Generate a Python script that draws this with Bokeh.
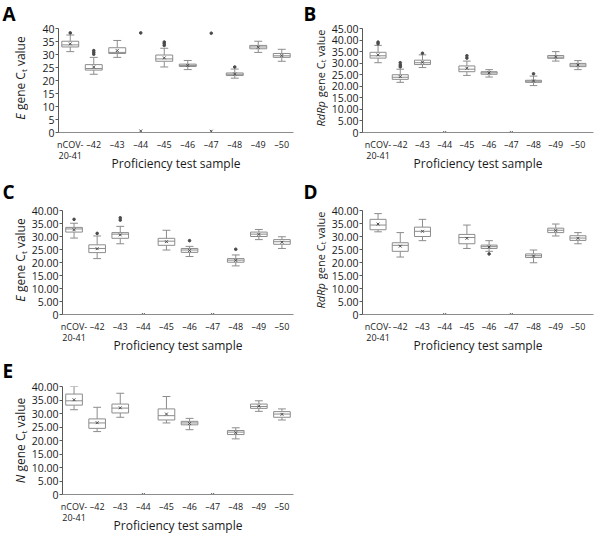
import math
from bokeh.plotting import figure
from bokeh.models import ColumnDataSource, FactorRange, Range1d, FixedTicker, PrintfTickFormatter, Label, Title
from bokeh.layouts import row, column
from bokeh.transform import dodge
from bokeh.embed import file_html
from bokeh.resources import INLINE

samples = ["nCOV-\n20-41", "–42", "–43", "–44", "–45", "–46", "–47", "–48", "–49", "–50"]

# Panel A: E gene (first assay)
A_lo = [31.1, 22.4, 28.9, 0, 25.2, 24.2, 0, 20.9, 30.8, 27.4]
A_q1 = [32.9, 24.0, 30.4, 0, 27.4, 25.4, 0, 21.9, 32.2, 28.9]
A_med = [33.7, 24.6, 30.8, 0, 28.3, 25.8, 0, 22.4, 32.9, 29.5]
A_q3 = [35.1, 26.1, 32.6, 0, 29.8, 26.3, 0, 22.9, 33.5, 30.4]
A_hi = [37.5, 28.9, 35.4, 0, 32.4, 27.7, 0, 24.4, 35.1, 32.0]
A_mean = [34.1, 25.2, 31.5, 0.6, 28.7, 25.8, 0.5, 22.5, 32.8, 29.6]
A_out_cat = ["nCOV-\n20-41", "–42", "–42", "–42", "–44", "–45", "–45", "–45", "–47", "–48"]
A_out_val = [38.3, 30.1, 30.8, 31.5, 38.3, 33.5, 34.2, 34.8, 38.2, 25.2]

# Panel B: RdRp gene (first assay)
B_lo = [30.2, 21.7, 28.1, 0, 24.7, 24.0, 0, 20.3, 30.9, 27.2]
B_q1 = [32.2, 23.0, 29.4, 0, 26.3, 25.2, 0, 21.7, 32.1, 28.5]
B_med = [33.2, 23.9, 30.2, 0, 27.4, 25.8, 0, 22.2, 32.6, 29.2]
B_q3 = [34.7, 25.0, 31.3, 0, 28.8, 26.3, 0, 22.6, 33.3, 29.9]
B_hi = [37.7, 27.4, 33.6, 0, 30.9, 27.2, 0, 24.4, 35.0, 31.1]
B_mean = [33.6, 24.2, 30.4, 0, 27.8, 25.8, 0, 22.3, 32.7, 29.2]
B_out_cat = ["nCOV-\n20-41", "nCOV-\n20-41", "–42", "–42", "–42", "–43", "–45", "–45", "–48"]
B_out_val = [38.4, 39.1, 28.4, 29.2, 30.2, 34.3, 32.2, 33.2, 25.4]

# Panel C: E gene (second assay)
C_lo = [29.4, 21.5, 27.2, 0, 24.8, 22.3, 0, 18.7, 28.8, 25.4]
C_q1 = [31.7, 23.8, 29.3, 0, 26.6, 23.9, 0, 20.1, 30.0, 27.0]
C_med = [32.9, 25.4, 30.9, 0, 28.2, 24.8, 0, 20.9, 30.9, 28.0]
C_q3 = [33.5, 26.8, 31.5, 0, 29.3, 25.4, 0, 21.5, 31.7, 28.8]
C_hi = [35.1, 30.2, 33.9, 0, 32.4, 26.2, 0, 22.9, 32.7, 29.9]
C_mean = [32.6, 25.3, 30.6, 0, 28.0, 24.6, 0, 20.8, 30.8, 27.8]
C_out_cat = ["nCOV-\n20-41", "–42", "–43", "–43", "–46", "–48"]
C_out_val = [36.6, 31.2, 36.3, 37.2, 28.4, 25.1]

# Panel D: RdRp gene (second assay)
D_lo = [31.8, 22.1, 28.4, 0, 25.4, 24.3, 0, 19.9, 30.2, 27.2]
D_q1 = [32.6, 24.3, 30.0, 0, 27.2, 25.4, 0, 21.9, 31.5, 28.5]
D_med = [34.4, 26.6, 32.0, 0, 29.6, 26.1, 0, 22.6, 32.4, 29.4]
D_q3 = [36.6, 27.6, 33.6, 0, 30.8, 26.7, 0, 23.3, 33.2, 30.3]
D_hi = [38.8, 31.5, 36.6, 0, 34.4, 28.4, 0, 24.8, 34.8, 31.5]
D_mean = [34.8, 26.3, 32.0, 0, 29.3, 26.0, 0, 22.5, 32.3, 29.3]
D_out_cat = ["–46"]
D_out_val = [23.3]

# Panel E: N gene
E_lo = [31.4, 23.3, 28.6, 0, 26.5, 24.0, 0, 20.6, 30.8, 27.6]
E_q1 = [33.1, 24.5, 30.2, 0, 27.6, 25.8, 0, 22.2, 31.9, 28.6]
E_med = [34.7, 26.5, 32.0, 0, 29.2, 26.5, 0, 23.1, 32.6, 29.8]
E_q3 = [37.2, 28.0, 33.5, 0, 31.7, 27.1, 0, 23.7, 33.5, 30.7]
E_hi = [40.0, 32.3, 37.5, 0, 36.3, 28.2, 0, 24.7, 34.7, 31.7]
E_mean = [35.1, 26.6, 32.1, 0, 29.8, 26.3, 0, 22.9, 32.7, 29.7]
E_out_cat = []
E_out_val = []

FONT = "Open Sans"
BOX = "#8c8c8c"
DARK = "#4a4a4a"
TXT = "#1a1a1a"

# layout (pixels); page origin is the top-left corner
ROW_H = [175, 182, 188]
ROW_TOP = [28, 35, 29]
ROW_BOT = [38, 38, 51]
ROW_LET_STANDOFF = [0, 7, 1]
STRIP_W = [28, 28]
MAIN_W = [272, 270]
COL_L = [30, 29]
COL_R = [7, 5]
COL_PAD = [0, 0.04]
COL_YT = [19.5, 20]
COL_LET = [2, 3]


def make_strip(letter, word, word_w, fs, r, c):
    h = ROW_H[r]
    w = STRIP_W[c]
    ttl = Title(text=letter, align="left", offset=COL_LET[c], standoff=ROW_LET_STANDOFF[r],
                vertical_align="top", text_font=FONT, text_font_size="19px",
                text_font_style="bold", text_color="black")
    s = figure(width=w, height=h, x_range=Range1d(0, w), y_range=Range1d(0, 1),
               x_axis_location=None, y_axis_location=None, output_backend="svg",
               toolbar_location=None, min_border_left=0, min_border_right=0,
               min_border_top=ROW_TOP[r], min_border_bottom=ROW_BOT[r], title=ttl)
    s.outline_line_color = None
    s.grid.visible = False
    fh = h - ROW_TOP[r] - ROW_BOT[r]
    k = fs / 12.0
    center = fh / 2
    sp = 3.1 * k
    w_word = word_w * k
    w_gene = 38.1 * k
    w_t = 2.8 * k
    w_val = 29.8 * k
    total = w_word + sp + w_gene + w_t + sp + w_val
    y0 = center - total / 2
    xt = COL_YT[c]
    common = dict(x_units="screen", y_units="screen", angle=math.pi / 2, text_align="left",
                  text_baseline="middle", text_font=FONT, text_color=TXT)
    s.add_layout(Label(x=xt, y=y0, text=word, text_font_size=f"{fs}px",
                       text_font_style="italic", **common))
    s.add_layout(Label(x=xt, y=y0 + w_word + sp, text="gene C", text_font_size=f"{fs}px", **common))
    s.add_layout(Label(x=xt + 3 * k, y=y0 + w_word + sp + w_gene, text="t",
                       text_font_size=f"{round(8 * k, 1)}px", **common))
    s.add_layout(Label(x=xt, y=y0 + w_word + sp + w_gene + w_t + sp, text="value",
                       text_font_size=f"{fs}px", **common))
    return s


def make_panel(lo, q1, med, q3, hi, mean, oc, ov, ymax, int_labels, r, c):
    h = ROW_H[r]
    p = figure(width=MAIN_W[c], height=h,
               x_range=FactorRange(*samples, range_padding=COL_PAD[c]),
               y_range=Range1d(0, ymax), output_backend="svg", toolbar_location=None,
               min_border_left=COL_L[c], min_border_right=COL_R[c],
               min_border_top=ROW_TOP[r], min_border_bottom=ROW_BOT[r])
    p.outline_line_color = None
    p.grid.grid_line_color = None

    src = ColumnDataSource(dict(x=samples, lo=lo, q1=q1, med=med, q3=q3, hi=hi, mean=mean))
    xr = p.x_range
    p.segment(x0="x", x1="x", y0="lo", y1="q1", source=src, line_color=BOX, line_width=1)
    p.segment(x0="x", x1="x", y0="q3", y1="hi", source=src, line_color=BOX, line_width=1)
    p.segment(x0=dodge("x", -0.17, range=xr), x1=dodge("x", 0.17, range=xr), y0="lo", y1="lo",
              source=src, line_color=BOX, line_width=1)
    p.segment(x0=dodge("x", -0.17, range=xr), x1=dodge("x", 0.17, range=xr), y0="hi", y1="hi",
              source=src, line_color=BOX, line_width=1)
    p.vbar(x="x", width=0.72, bottom="q1", top="q3", source=src, fill_color="white",
           line_color=BOX, line_width=1)
    p.segment(x0=dodge("x", -0.36, range=xr), x1=dodge("x", 0.36, range=xr), y0="med", y1="med",
              source=src, line_color=BOX, line_width=1)
    p.scatter(x="x", y="mean", source=src, marker="x", size=4, line_color=DARK, line_width=1)
    if oc:
        p.scatter(x=oc, y=ov, marker="circle", size=2.6, fill_color=DARK, line_color=DARK)

    ax = p.yaxis[0]
    ax.ticker = FixedTicker(ticks=list(range(0, ymax + 1, 5)))
    if int_labels:
        ax.formatter = PrintfTickFormatter(format="%d")
    else:
        ax.formatter = PrintfTickFormatter(format="%.2f")
        ax.major_label_overrides = {0: "0"}
    ax.major_label_text_font = FONT
    ax.major_label_text_font_size = "10.5px"
    ax.major_label_text_color = TXT
    ax.axis_line_color = "#595959"
    ax.major_tick_line_color = "#595959"
    ax.major_tick_out = 3
    ax.major_tick_in = 0
    ax.minor_tick_line_color = None
    ax.major_label_standoff = 1

    bx = p.xaxis[0]
    bx.major_label_text_font = FONT
    bx.major_label_text_font_size = "9px"
    bx.major_label_text_color = TXT
    bx.major_label_text_line_height = 0.9
    bx.axis_line_color = "#8c8c8c"
    bx.major_tick_line_color = None
    bx.major_tick_out = 0
    bx.major_tick_in = 0
    bx.minor_tick_line_color = None
    bx.major_label_standoff = 5
    bx.axis_label = "Proficiency test sample"
    bx.axis_label_text_font = FONT
    bx.axis_label_text_font_size = "12px"
    bx.axis_label_text_font_style = "normal"
    bx.axis_label_text_color = TXT
    bx.axis_label_standoff = -10
    return p


pA = make_panel(A_lo, A_q1, A_med, A_q3, A_hi, A_mean, A_out_cat, A_out_val, 40, True, 0, 0)
pB = make_panel(B_lo, B_q1, B_med, B_q3, B_hi, B_mean, B_out_cat, B_out_val, 45, False, 0, 1)
pC = make_panel(C_lo, C_q1, C_med, C_q3, C_hi, C_mean, C_out_cat, C_out_val, 40, False, 1, 0)
pD = make_panel(D_lo, D_q1, D_med, D_q3, D_hi, D_mean, D_out_cat, D_out_val, 40, False, 1, 1)
pE = make_panel(E_lo, E_q1, E_med, E_q3, E_hi, E_mean, E_out_cat, E_out_val, 40, False, 2, 0)

sA = make_strip("A", "E", 6.5, 12, 0, 0)
sB = make_strip("B", "RdRp", 28.8, 11, 0, 1)
sC = make_strip("C", "E", 6.5, 12, 1, 0)
sD = make_strip("D", "RdRp", 28.8, 11, 1, 1)
sE = make_strip("E", "N", 8.7, 12, 2, 0)

page = column(row(sA, pA, sB, pB), row(sC, pC, sD, pD), row(sE, pE), spacing=0)

open("out.html", "w").write(file_html(page, INLINE))
